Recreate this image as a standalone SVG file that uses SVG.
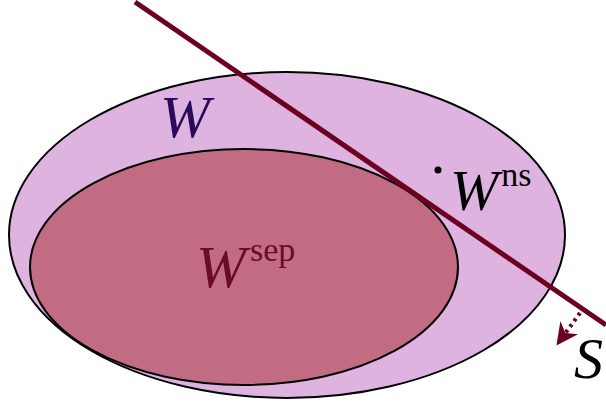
<svg xmlns="http://www.w3.org/2000/svg" width="606" height="404" viewBox="0 0 606 404">
<style>
.lbl{font-family:"Liberation Serif",serif;font-style:italic}
.sup{font-family:"Liberation Serif",serif;font-style:normal}
</style>
<defs>
<marker id="ah" viewBox="0 0 10 10" refX="8" refY="5" markerWidth="5.5" markerHeight="5.5" orient="auto" markerUnits="strokeWidth">
<path d="M0,0 L10,5 L0,10 L3,5 Z" fill="#6b0020"/>
</marker>
</defs>
<g id="outer">
<ellipse cx="287" cy="235" rx="278" ry="163" fill="#dfb3e0" stroke="#000" stroke-width="2"/>
<text class="lbl" x="160" y="137" font-size="60" fill="#2a0b5a">W</text>
</g>
<g id="inner">
<ellipse cx="244" cy="267" rx="214" ry="118" fill="#c26c84" stroke="#000" stroke-width="2"/>
<text class="lbl" x="196" y="287" font-size="60" fill="#6b0a2a">W<tspan class="sup" font-size="34" dx="4" dy="-26">sep</tspan></text>
</g>
<g id="wns">
<circle cx="438" cy="170" r="3.5" fill="#000"/>
<text class="lbl" x="450" y="210" font-size="58" fill="#000">W<tspan class="sup" font-size="34" dx="3" dy="-24">ns</tspan></text>
</g>
<g id="connectors">
<line x1="580" y1="313" x2="559" y2="342" stroke="#6b0020" stroke-width="4" stroke-dasharray="3,4" marker-end="url(#ah)"/>
<line x1="135" y1="2" x2="606" y2="325" stroke="#6b0020" stroke-width="5"/>
</g>
<g id="S">
<text class="lbl" x="574" y="378" font-size="58" fill="#000">S</text>
</g>
</svg>
